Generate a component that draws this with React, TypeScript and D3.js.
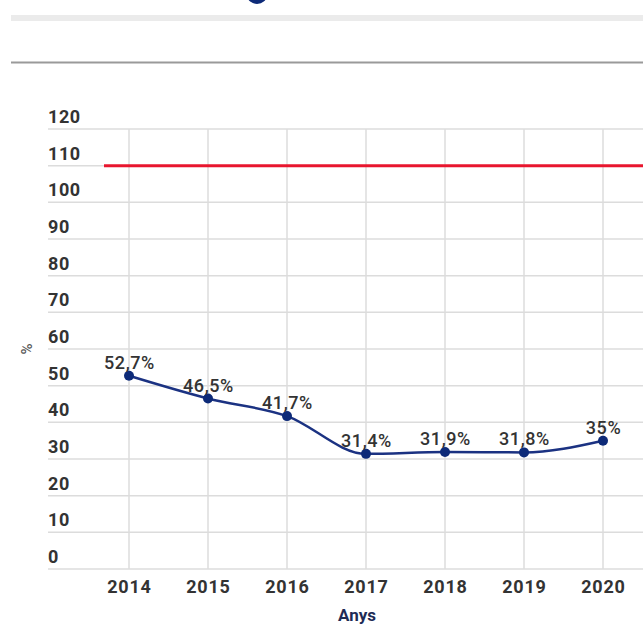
import React, { useEffect, useRef } from "react";
import * as d3 from "d3";

const anys: number[] = [2014, 2015, 2016, 2017, 2018, 2019, 2020];
const valors: number[] = [52.7, 46.5, 41.7, 31.4, 31.9, 31.8, 35];
const yTicks: number[] = [0, 10, 20, 30, 40, 50, 60, 70, 80, 90, 100, 110, 120];
const limit = 110;

const W = 643;
const H = 626;

const App = () => {
  const ref = useRef<SVGSVGElement>(null);

  useEffect(() => {
    const svg = d3.select(ref.current);
    svg.selectAll("*").remove();

    const font = "Roboto, 'Noto Sans', sans-serif";

    // escales
    const x = d3.scaleLinear().domain([2014, 2020]).range([129, 603]);
    const y = d3.scaleLinear().domain([0, 120]).range([569, 129]);

    // capçalera (restes del títol i separadors)
    svg.append("ellipse")
      .attr("cx", 257).attr("cy", -5).attr("rx", 10).attr("ry", 9)
      .attr("fill", "#0d2a78");
    svg.append("rect")
      .attr("x", 11).attr("y", 15).attr("width", W).attr("height", 6)
      .attr("fill", "#ebebeb");
    svg.append("rect")
      .attr("x", 11).attr("y", 61.5).attr("width", W).attr("height", 2)
      .attr("fill", "#9a9a9a");

    // graella horitzontal
    svg.append("g")
      .selectAll("line")
      .data(yTicks)
      .join("line")
      .attr("x1", 48).attr("x2", W)
      .attr("y1", d => y(d)).attr("y2", d => y(d))
      .attr("stroke", "#dcdcdc")
      .attr("stroke-width", 1.5);

    // graella vertical
    svg.append("g")
      .selectAll("line")
      .data(anys)
      .join("line")
      .attr("x1", d => x(d)).attr("x2", d => x(d))
      .attr("y1", y(120)).attr("y2", y(0))
      .attr("stroke", "#dcdcdc")
      .attr("stroke-width", 1.5);

    // etiquetes eix Y
    svg.append("g")
      .selectAll("text")
      .data(yTicks)
      .join("text")
      .attr("x", 48)
      .attr("y", d => y(d) - 6)
      .attr("font-family", font)
      .attr("font-weight", "bold")
      .attr("font-size", 18)
      .attr("letter-spacing", 0.6)
      .attr("fill", "#333")
      .text(d => d);

    // etiquetes eix X
    svg.append("g")
      .selectAll("text")
      .data(anys)
      .join("text")
      .attr("x", d => x(d) + 0.4)
      .attr("y", 593)
      .attr("text-anchor", "middle")
      .attr("font-family", font)
      .attr("font-weight", "bold")
      .attr("font-size", 18)
      .attr("letter-spacing", 0.8)
      .attr("fill", "#333")
      .text(d => d);

    // títols dels eixos
    svg.append("text")
      .attr("x", 357).attr("y", 621)
      .attr("text-anchor", "middle")
      .attr("font-family", font)
      .attr("font-weight", "bold")
      .attr("font-size", 17)
      .attr("fill", "#1e2b55")
      .text("Anys");
    svg.append("text")
      .attr("transform", "translate(32,349) rotate(-90)")
      .attr("text-anchor", "middle")
      .attr("font-family", font)
      .attr("font-weight", 500)
      .attr("font-size", 15)
      .attr("fill", "#555")
      .text("%");

    // línia de referència
    svg.append("line")
      .attr("x1", 104).attr("x2", W)
      .attr("y1", y(limit)).attr("y2", y(limit))
      .attr("stroke", "#e8162e")
      .attr("stroke-width", 3);

    // sèrie
    const data = anys.map((a, i) => ({ a, v: valors[i] }));
    const line = d3.line<{ a: number; v: number }>()
      .x(d => x(d.a))
      .y(d => y(d.v))
      .curve(d3.curveMonotoneX);

    svg.append("path")
      .datum(data)
      .attr("d", line)
      .attr("fill", "none")
      .attr("stroke", "#1b3282")
      .attr("stroke-width", 2.5);

    svg.append("g")
      .selectAll("circle")
      .data(data)
      .join("circle")
      .attr("cx", d => x(d.a))
      .attr("cy", d => y(d.v))
      .attr("r", 5)
      .attr("fill", "#0d2a78");

    svg.append("g")
      .selectAll("text")
      .data(data)
      .join("text")
      .attr("x", d => x(d.a) + 0.5)
      .attr("y", d => y(d.v) - 7)
      .attr("text-anchor", "middle")
      .attr("font-family", font)
      .attr("font-weight", 500)
      .attr("font-size", 18)
      .attr("letter-spacing", 0.6)
      .attr("fill", "#333")
      .text(d => String(d.v).replace(".", ",") + "%");
  }, []);

  return (
    <svg
      ref={ref}
      width={W}
      height={H}
      style={{ position: "fixed", left: 0, top: 0, background: "#fff" }}
    ></svg>
  );
};

export default App;
